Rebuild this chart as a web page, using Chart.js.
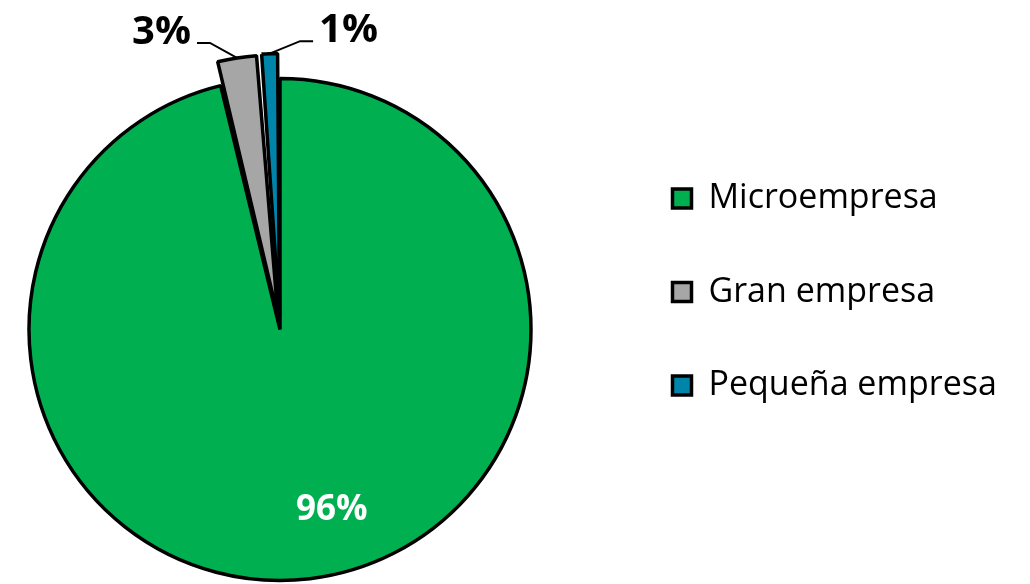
<!DOCTYPE html>
<html>
<head>
<meta charset="utf-8">
<script src="https://cdn.jsdelivr.net/npm/chart.js@4.4.1/dist/chart.umd.min.js"></script>
<style>
  html, body { margin: 0; padding: 0; background: #fff; overflow: hidden; }
  /* canvas is a bit wider than the page and shifted left so the pie can sit
     left of the middle of its chart area */
  #wrap { width: 1130px; height: 584px; position: relative; margin-left: -100px; }
</style>
</head>
<body>
<div id="wrap"><canvas id="chart"></canvas></div>
<script>
// data
const categories = ['Microempresa', 'Gran empresa', 'Pequeña empresa'];
const shares = [96.2, 2.6, 1.2];
const shareLabels = ['96%', '3%', '1%'];
const sliceColors = ['#00B050', '#A6A6A6', '#0085AA'];

const FONT = '"Open Sans", "Noto Sans", sans-serif';
const shift = 100;          // how far the canvas is pushed left
const canvasW = 1030 + shift;
const legendFont = 34;
const legendPad = 59.5;
const legendBox = 19;

// measure the widest legend text so the legend lands where it should
const mctx = document.createElement('canvas').getContext('2d');
mctx.font = legendFont + 'px ' + FONT;
const maxText = Math.max(...categories.map(c => mctx.measureText(c).width));
const legendW = legendPad + legendBox + legendFont / 2 + maxText + 10;
const legendLeft = 613 + shift;
const padRight = canvasW - legendLeft - legendW;
const cx = 280 + shift;

// labels drawn next to / inside the slices
const pieLabels = {
    id: 'pieLabels',
    afterDatasetsDraw(chart) {
        const ctx = chart.ctx;
        const meta = chart.getDatasetMeta(0);
        meta.data.forEach((arc, i) => {
            const p = arc.getProps(['x', 'y', 'startAngle', 'endAngle', 'outerRadius', 'circumference'], true);
            // same geometry the arc element uses for its offset
            const off = (arc.options.offset || 0) / 4;
            const fix = 1 - Math.sin(Math.min(Math.PI, p.circumference || 0));
            const mid = (p.startAngle + p.endAngle) / 2;
            const ox = p.x + off * Math.cos(mid);
            const oy = p.y + off * Math.sin(mid);
            const outer = p.outerRadius + off * fix;
            ctx.save();
            if (i === 0) {
                const a = mid - 9.1 * Math.PI / 180;
                const r = p.outerRadius * 0.75;
                ctx.fillStyle = '#fff';
                ctx.font = 'bold 35px ' + FONT;
                ctx.textAlign = 'center';
                ctx.textBaseline = 'middle';
                ctx.fillText(shareLabels[i], ox + r * Math.cos(a), oy + r * Math.sin(a));
            } else {
                const ax = ox + outer * Math.cos(mid);
                const ay = oy + outer * Math.sin(mid);
                const dir = i === 1 ? -1 : 1;
                const ex = ax + dir * (i === 1 ? 27 : 30.5);
                const ey = ay - (i === 1 ? 15 : 12.5);
                const lx = ex + dir * 13;
                ctx.strokeStyle = '#000';
                ctx.lineWidth = 2;
                ctx.beginPath();
                ctx.moveTo(ax, ay);
                ctx.lineTo(ex, ey);
                ctx.lineTo(lx, ey);
                ctx.stroke();
                ctx.fillStyle = '#000';
                ctx.font = 'bold 40px ' + FONT;
                ctx.textAlign = dir < 0 ? 'right' : 'left';
                ctx.textBaseline = 'alphabetic';
                ctx.fillText(shareLabels[i], lx + dir * 6, ey + 1);
            }
            ctx.restore();
        });
    }
};

const chart = new Chart(document.getElementById('chart'), {
    type: 'pie',
    data: {
        labels: categories,
        datasets: [{
            data: shares,
            backgroundColor: sliceColors,
            borderColor: '#000',
            borderWidth: 3.5,
            offset: [0, 52, 52],
            radius: 251,
            clip: false
        }]
    },
    options: {
        responsive: true,
        maintainAspectRatio: false,
        animation: false,
        layout: {
            padding: { left: cx * 2 - legendLeft, right: padRight, top: 122, bottom: 47 }
        },
        plugins: {
            legend: {
                position: 'right',
                align: 'start',
                labels: {
                    color: '#000',
                    font: { family: FONT, size: legendFont },
                    boxWidth: legendBox,
                    boxHeight: legendBox,
                    padding: legendPad
                }
            },
            tooltip: { enabled: false }
        }
    },
    plugins: [pieLabels]
});
</script>
</body>
</html>
